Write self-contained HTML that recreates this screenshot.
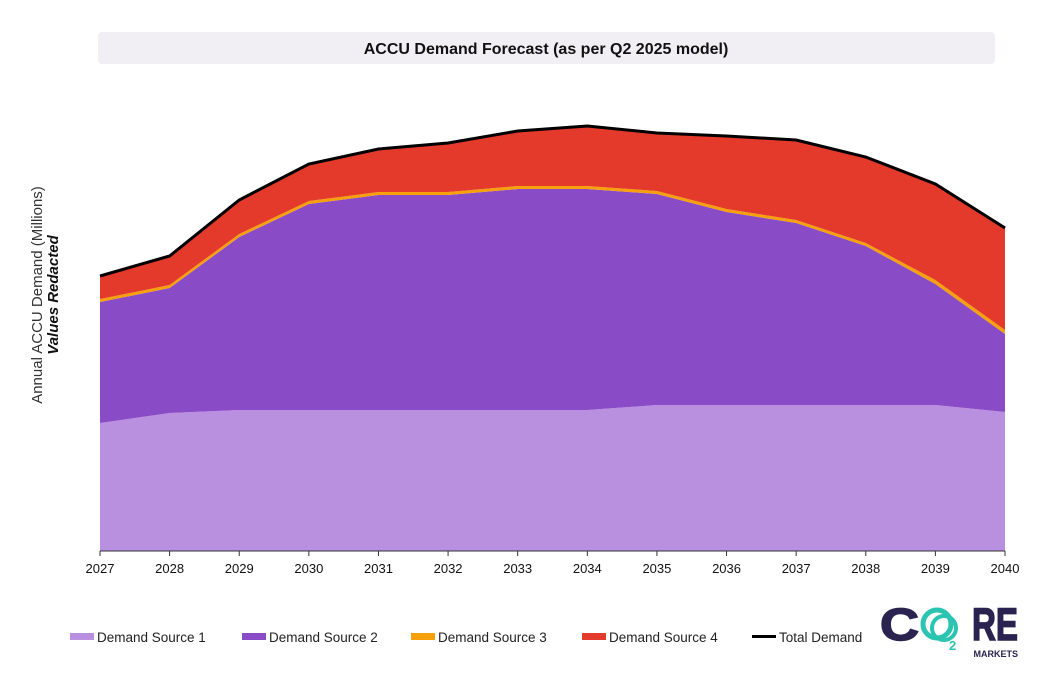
<!DOCTYPE html>
<html><head><meta charset="utf-8"><style>
body{margin:0;background:#fff;font-family:"Liberation Sans",sans-serif;}
svg{display:block}
</style></head><body>
<svg width="1039" height="676" id="c">
<rect x="98" y="32" width="897" height="32" rx="4" fill="#f1eff3"/>
<text x="546" y="54" text-anchor="middle" font-size="16" font-weight="bold" fill="#111">ACCU Demand Forecast (as per Q2 2025 model)</text>
<g transform="translate(42,295) rotate(-90)">
<text x="0" y="0" text-anchor="middle" font-size="15" fill="#333">Annual ACCU Demand (Millions)</text>
<text x="0" y="16" text-anchor="middle" font-size="15" font-weight="bold" font-style="italic" fill="#111">Values Redacted</text>
</g>
<g id="plot"></g>
<g id="legend"></g>
<g>
<text x="880" y="640" font-size="45" font-weight="bold" fill="#2a2350" stroke="#2a2350" stroke-width="1.5" textLength="39" lengthAdjust="spacingAndGlyphs">C</text>
<circle cx="937" cy="624" r="14" fill="none" stroke="#2bc4b0" stroke-width="5"/>
<circle cx="944" cy="628" r="12" fill="none" stroke="#2bc4b0" stroke-width="4"/>
<text x="949" y="650" font-size="13" font-weight="bold" fill="#2bc4b0">2</text>
<text x="972" y="640" font-size="45" font-weight="bold" fill="#2a2350" stroke="#2a2350" stroke-width="1.5" textLength="46" lengthAdjust="spacingAndGlyphs">RE</text>
<text x="1018" y="657" text-anchor="end" font-size="9" font-weight="bold" fill="#2a2350">MARKETS</text>
</g>
</svg>
<script>
const years=[2027,2028,2029,2030,2031,2032,2033,2034,2035,2036,2037,2038,2039,2040];
const s1=[128,138,141,141,141,141,141,141,146,146,146,146,146,139];
const s2=[121,125,173,206,215,215,221,221,211,193,182,159,121,78];
const s3=[3,3,3,3,3,3,3,3,3,3,3,3,4,4];
const s4=[23,29,34,37,43,49,55,60,58,73,80,86,96,102];
const names=["Demand Source 1","Demand Source 2","Demand Source 3","Demand Source 4"];
const colors=["#b98fe0","#8a4bc6","#f7a00c","#e33a2c"];
const NS="http://www.w3.org/2000/svg";
const x=i=>100+i*(905/(years.length-1));
const y=v=>551-v*(425/425);
const plot=document.getElementById('plot');
const series=[s1,s2,s3,s4];
let base=years.map(()=>0);
series.forEach((s,k)=>{
  const top=base.map((b,i)=>b+s[i]);
  let d="M"+years.map((_,i)=>x(i)+","+y(top[i])).join("L");
  for(let i=years.length-1;i>=0;i--)d+="L"+x(i)+","+y(base[i]);
  const p=document.createElementNS(NS,'path');
  p.setAttribute('d',d+"Z");p.setAttribute('fill',colors[k]);
  
  
  plot.appendChild(p);
  base=top;
});
const tl=document.createElementNS(NS,'path');
tl.setAttribute('d',"M"+years.map((_,i)=>x(i)+","+y(base[i])).join("L"));
tl.setAttribute('fill','none');tl.setAttribute('stroke','#000');tl.setAttribute('stroke-width','3');


plot.appendChild(tl);
const ax=document.createElementNS(NS,'line');
ax.setAttribute('x1',100);ax.setAttribute('x2',1005);ax.setAttribute('y1',551);ax.setAttribute('y2',551);ax.setAttribute('stroke','#333');


plot.appendChild(ax);
years.forEach((yr,i)=>{
  const t=document.createElementNS(NS,'line');
  t.setAttribute('x1',x(i));t.setAttribute('x2',x(i));t.setAttribute('y1',551);t.setAttribute('y2',556);t.setAttribute('stroke','#333');
  
  
  plot.appendChild(t);
  const l=document.createElementNS(NS,'text');
  l.setAttribute('x',x(i));l.setAttribute('y',573);l.setAttribute('text-anchor','middle');l.setAttribute('font-size','13');l.setAttribute('fill','#111');
  l.textContent=yr;
  
  
  plot.appendChild(l);
});
const lg=document.getElementById('legend');
const lx=[70,242,411,582,752];
names.concat(["Total Demand"]).forEach((n,k)=>{
  const g=document.createElementNS(NS,'g');
  
  
  const r=document.createElementNS(NS,'rect');
  r.setAttribute('x',lx[k]);r.setAttribute('y',k<4?633:635);r.setAttribute('width',24);r.setAttribute('height',k<4?7:3);
  r.setAttribute('fill',k<4?colors[k]:'#000');
  g.appendChild(r);
  const t=document.createElementNS(NS,'text');
  t.setAttribute('x',lx[k]+27);t.setAttribute('y',642);t.setAttribute('font-size','13.5');t.setAttribute('fill','#222');
  t.textContent=n;g.appendChild(t);
  lg.appendChild(g);
});
</script>
</body></html>
